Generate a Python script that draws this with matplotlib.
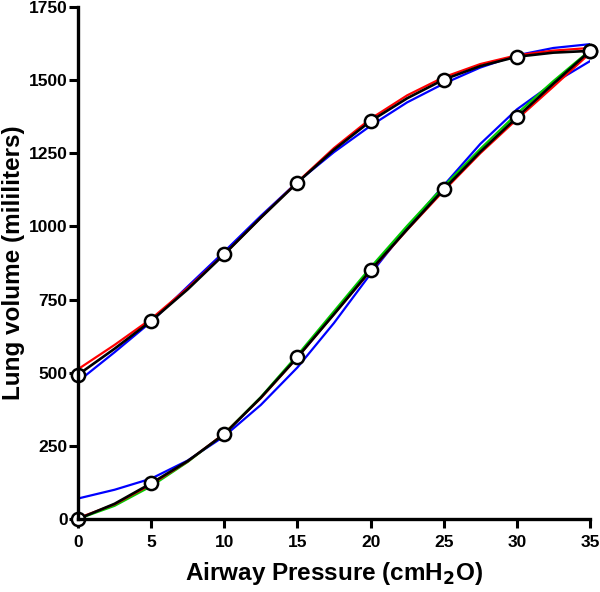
import matplotlib
matplotlib.use("Agg")
import matplotlib.pyplot as plt

plt.rcParams['font.family'] = ['Liberation Sans', 'DejaVu Sans']
plt.rcParams['font.weight'] = 'bold'

# measured points (cmH2O, ml)
pressure = [0, 5, 10, 15, 20, 25, 30, 35]
deflation = [493, 677, 905, 1150, 1360, 1502, 1580, 1600]
inflation = [0, 122, 290, 553, 850, 1127, 1373, 1600]

# fitted curves, every 2.5 cmH2O
fit_p = [0, 2.5, 5, 7.5, 10, 12.5, 15, 17.5, 20, 22.5, 25, 27.5, 30, 32.5, 35]
defl_black = [493, 582, 677, 785, 905, 1030, 1150, 1262, 1360, 1438, 1502, 1548, 1580, 1594, 1600]
defl_red = [512, 595, 684, 790, 905, 1030, 1152, 1268, 1368, 1448, 1510, 1555, 1585, 1601, 1610]
defl_blue = [470, 570, 674, 795, 914, 1036, 1152, 1254, 1344, 1424, 1488, 1543, 1585, 1610, 1623]
infl_black = [0, 52, 122, 198, 290, 415, 553, 700, 850, 990, 1127, 1255, 1373, 1488, 1600]
infl_red = [3, 50, 118, 197, 292, 413, 552, 700, 848, 988, 1122, 1250, 1366, 1478, 1592]
infl_green = [0, 45, 112, 195, 292, 417, 560, 710, 860, 1002, 1137, 1265, 1385, 1497, 1602]
infl_blue = [70, 100, 138, 200, 283, 390, 518, 670, 838, 995, 1140, 1282, 1400, 1490, 1565]

fig = plt.figure(figsize=(6.0, 5.92), dpi=100)
ax = fig.add_axes([78 / 600, 73 / 592, 512 / 600, 512 / 592])

lw = 1.6
ax.plot(fit_p, defl_blue, color='#0000ff', lw=lw)
ax.plot(fit_p, infl_blue, color='#0000ff', lw=lw)
ax.plot(fit_p, infl_green, color='#00cc00', lw=lw)
ax.plot(fit_p, defl_red, color='#ff0000', lw=lw)
ax.plot(fit_p, infl_red, color='#ff0000', lw=lw)
ax.plot(fit_p, defl_black, color='black', lw=1.9)
ax.plot(fit_p, infl_black, color='black', lw=1.9)

for vals in (deflation, inflation):
    ax.plot(pressure, vals, 'o', ms=9.5, mfc='white', mec='black', mew=1.8,
            clip_on=False, zorder=2.3)

ax.set_xlim(0, 35)
ax.set_ylim(0, 1750)
ax.set_xticks([0, 5, 10, 15, 20, 25, 30, 35])
ax.set_yticks([0, 250, 500, 750, 1000, 1250, 1500, 1750])

for s in ['top', 'right']:
    ax.spines[s].set_visible(False)
for s in ['left', 'bottom']:
    ax.spines[s].set_linewidth(2.4)

ax.tick_params(axis='both', direction='out', length=6.5, width=2.2, labelsize=12.5)
ax.tick_params(axis='y', pad=1)
ax.tick_params(axis='x', pad=5)

ax.set_xlabel('Airway Pressure (cmH$_\\mathbf{2}$O)', fontsize=17.5, fontweight='bold', labelpad=7.5)
ax.set_ylabel('Lung volume (mililiters)', fontsize=17.5, fontweight='bold', labelpad=3)

fig.savefig('out.png', dpi=100)
